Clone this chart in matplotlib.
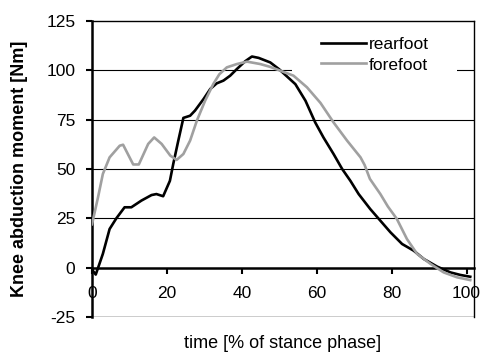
import numpy as np
import matplotlib.pyplot as plt
from matplotlib.patches import Rectangle

plt.rcParams['font.family'] = ['Liberation Sans', 'DejaVu Sans']
plt.rcParams['axes.unicode_minus'] = False

# values
rear_x = [0, 1, 2.9, 4.7, 6.5, 8.7, 10.5, 13.2, 15.9, 17.2, 19, 20.8, 21.7, 23,
          24.4, 26.2, 27.5, 29.8, 31.6, 33.3, 35.1, 36.9, 38.7, 40.9, 42.7, 44.5,
          47.6, 50, 52, 54.3, 57, 59.6, 61.8, 64.5, 66.8, 69, 71.2, 74.3, 77,
          79.7, 82.8, 85.9, 88.6, 92.2, 95.7, 98.4, 101]
rear_y = [-1, -3.5, 7, 19.6, 25, 30.6, 30.6, 34, 36.8, 37.3, 36.2, 44, 52.6, 64,
          75.9, 77, 79.6, 85.5, 90.6, 93.4, 94.8, 97.3, 100.7, 104.6, 107, 106.3,
          104, 100.5, 97, 93, 84.6, 73.6, 66, 57.6, 50, 44, 37.3, 29.7, 23.8,
          17.9, 12, 8.6, 4.4, 0.5, -2.4, -3.7, -4.6]

fore_x = [0, 1.6, 2.9, 4.7, 7.4, 8.3, 11, 12.5, 15, 16.6, 18.6, 20.9, 22.6, 24.4,
          26.2, 28, 30.2, 32.4, 34, 36, 38.7, 41.4, 44.9, 47.5, 50.3, 53.8, 57.4,
          61, 64.5, 68.1, 71.7, 72.8, 74.2, 77, 79, 81.4, 84.1, 86.8, 90.4, 93.9,
          97.5, 101]
fore_y = [22, 35.6, 47.5, 55.9, 61.8, 62.3, 52.3, 52.3, 62.7, 66, 62.7, 56.8, 54.6,
          57.6, 64.4, 74.5, 84.6, 93.1, 98, 101.5, 103.2, 104.4, 103.2, 101.8, 99.8,
          97.3, 91.4, 83.5, 73.6, 64.4, 55.9, 52, 45, 37.3, 31, 24.7, 14.5, 7, 1.9,
          -2.4, -4.9, -6.3]

y_ticks = [-25, 0, 25, 50, 75, 100, 125]
x_ticks = [0, 20, 40, 60, 80, 100]

fig = plt.figure(figsize=(4.85, 3.54), dpi=100)
ax = fig.add_axes([92/485, 1 - 317/354, (474 - 92)/485, (317 - 21)/354])

ax.set_xlim(0, 102)
ax.set_ylim(-25, 125)

# grid lines
for v in y_ticks[2:-1]:
    ax.axhline(v, color='black', lw=0.8, zorder=1)
ax.axhline(-25, color='black', lw=1.0, zorder=1)

ax.plot(rear_x, rear_y, color='black', lw=1.9, label='rearfoot', zorder=3)
ax.plot(fore_x, fore_y, color='#a0a0a0', lw=1.9, label='forefoot', zorder=3)

# axes
ax.spines['left'].set_linewidth(1.8)
ax.spines['bottom'].set_position(('data', 0))
ax.spines['bottom'].set_linewidth(1.8)
ax.spines['top'].set_linewidth(1.0)
ax.spines['right'].set_linewidth(1.0)
ax.spines['right'].set_bounds(-25, 125)

ax.set_yticks(y_ticks)
ax.set_xticks(x_ticks)
ax.tick_params(axis='y', direction='out', length=4, width=1.5, pad=8, labelsize=12.5)
ax.tick_params(axis='x', direction='out', length=4, width=1.5, pad=9, labelsize=12.5)

ax.set_ylabel('Knee abduction moment [Nm]', fontsize=13, fontweight='bold')
ax.yaxis.set_label_coords(-64/382, 0.5)
ax.text(0.5, (317 - 343)/296, 'time [% of stance phase]', transform=ax.transAxes,
        ha='center', va='center', fontsize=13)

# white legend area (hides the grid line behind the legend)
ax.add_patch(Rectangle((292/485, 1 - 78/354), 165/485, 45/354,
                       transform=fig.transFigure, facecolor='white',
                       edgecolor='none', zorder=2))
leg = ax.legend(loc='upper left', bbox_to_anchor=(321/485, 1 - 37/354),
                bbox_transform=fig.transFigure, frameon=False, fontsize=12.5,
                handlelength=2.6, handletextpad=0.15, labelspacing=0.3,
                borderpad=0, borderaxespad=0)
leg.set_zorder(6)

fig.savefig('out.png', dpi=100)
